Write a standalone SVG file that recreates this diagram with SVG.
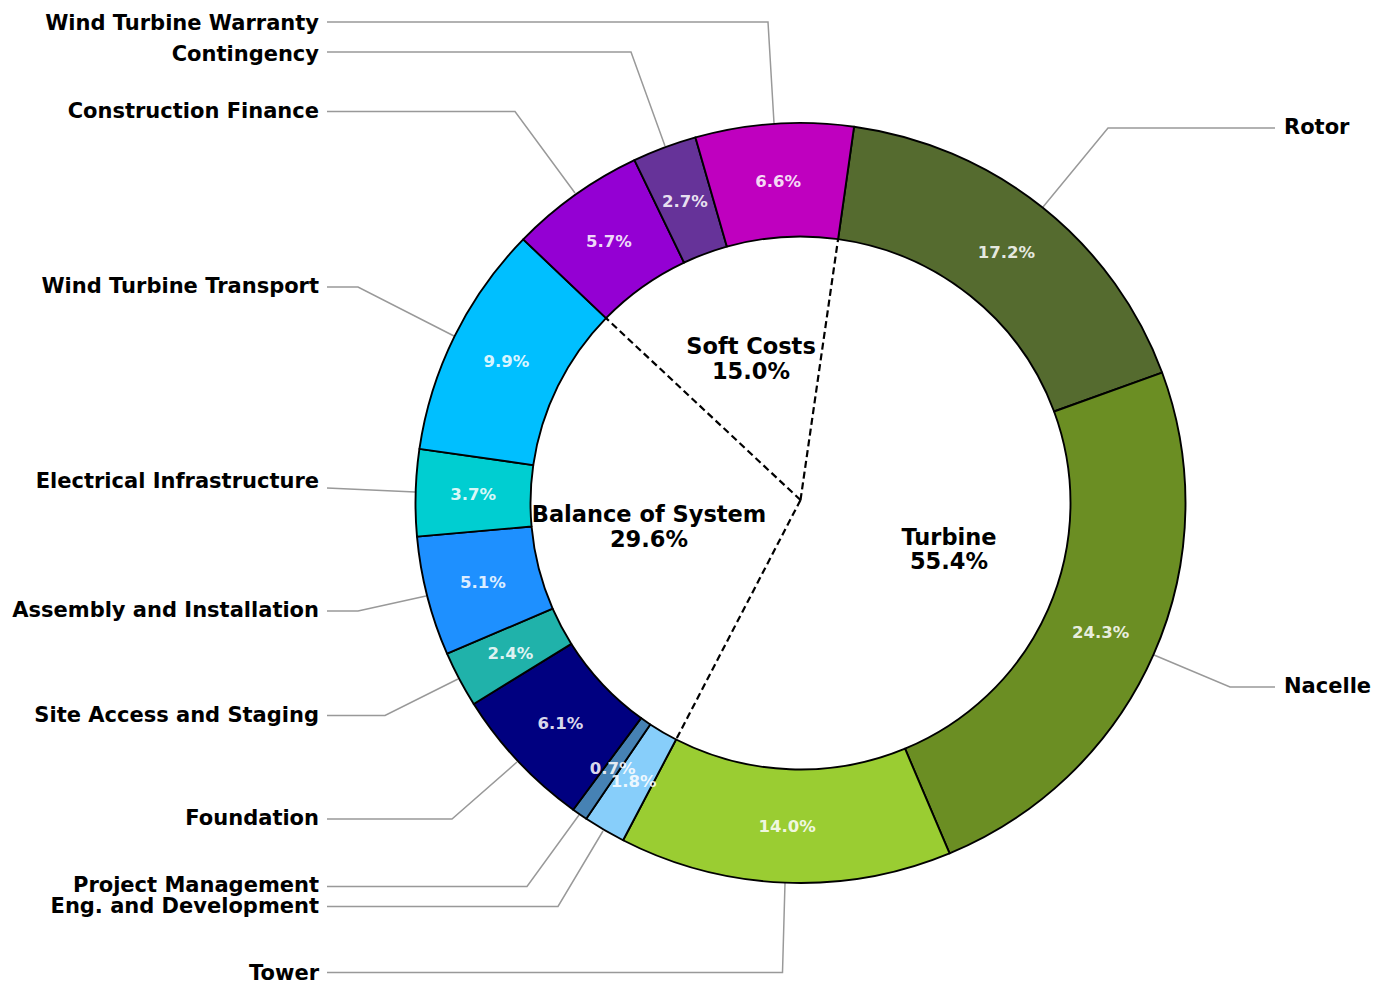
<svg xmlns="http://www.w3.org/2000/svg" width="1374" height="984" viewBox="0 0 1374 984">
<style>
.w{stroke:#000;stroke-width:1.9;stroke-linejoin:round}
.lead{fill:none;stroke:#999;stroke-width:1.5}
.dash{fill:none;stroke:#000;stroke-width:2.2;stroke-dasharray:7 4}
text{font-family:"DejaVu Sans","Liberation Sans",sans-serif;font-weight:bold}
.lbl{font-size:21px;fill:#000}
.l{text-anchor:end}
.pct{font-size:16.5px;fill:#fff;fill-opacity:0.87;text-anchor:middle}
.cat{font-size:22.5px;fill:#000;text-anchor:middle}
</style>
<rect width="1374" height="984" fill="#fff"/>
<g id="connectors">
<polyline class="lead" points="327,22 768,22 774,123"/>
<polyline class="lead" points="327,52 631,52 665,146"/>
<polyline class="lead" points="327,111.5 515,111.5 575,193"/>
<polyline class="lead" points="327,287 358,287 454,336"/>
<polyline class="lead" points="327,488 415,492"/>
<polyline class="lead" points="327,611 358,611 426,596"/>
<polyline class="lead" points="327,715.5 385,715.5 458,679"/>
<polyline class="lead" points="327,819 452,819 517,762"/>
<polyline class="lead" points="327,886.5 527,886.5 579,815"/>
<polyline class="lead" points="327,906.5 558,906.5 603,831"/>
<polyline class="lead" points="327,972.5 782.5,972.5 785,883"/>
<polyline class="lead" points="1275,128 1108,128 1043,207"/>
<polyline class="lead" points="1275,687 1230,687 1154,655"/>
</g>
<g id="ring" transform="translate(800.5,503) scale(1,0.987)">
<g id="rotor"><path class="w" fill="#556B2F" d="M53.58,-381.25 A385,385 0 0 1 361.60,-132.18 L253.59,-92.70 A270,270 0 0 0 37.58,-267.37 Z"/></g>
<g id="nacelle"><path class="w" fill="#6B8E23" d="M361.60,-132.18 A385,385 0 0 1 149.07,354.97 L104.54,248.94 A270,270 0 0 0 253.59,-92.70 Z"/></g>
<g id="tower"><path class="w" fill="#9ACD32" d="M149.07,354.97 A385,385 0 0 1 -177.42,341.69 L-124.42,239.62 A270,270 0 0 0 104.54,248.94 Z"/></g>
<g id="eng-dev"><path class="w" fill="#87CEFA" d="M-177.42,341.69 A385,385 0 0 1 -214.24,319.89 L-150.25,224.34 A270,270 0 0 0 -124.42,239.62 Z"/></g>
<g id="project-mgmt"><path class="w" fill="#4682B4" d="M-214.24,319.89 A385,385 0 0 1 -227.32,310.73 L-159.42,217.91 A270,270 0 0 0 -150.25,224.34 Z"/></g>
<g id="foundation"><path class="w" fill="#000080" d="M-227.32,310.73 A385,385 0 0 1 -326.77,203.59 L-229.16,142.77 A270,270 0 0 0 -159.42,217.91 Z"/></g>
<g id="site-access"><path class="w" fill="#20B2AA" d="M-326.77,203.59 A385,385 0 0 1 -353.45,152.63 L-247.88,107.04 A270,270 0 0 0 -229.16,142.77 Z"/></g>
<g id="assembly"><path class="w" fill="#1E90FF" d="M-353.45,152.63 A385,385 0 0 1 -383.50,34.01 L-268.94,23.85 A270,270 0 0 0 -247.88,107.04 Z"/></g>
<g id="electrical"><path class="w" fill="#00CED1" d="M-383.50,34.01 A385,385 0 0 1 -381.08,-54.78 L-267.25,-38.42 A270,270 0 0 0 -268.94,23.85 Z"/></g>
<g id="transport"><path class="w" fill="#00BFFF" d="M-381.08,-54.78 A385,385 0 0 1 -277.28,-267.09 L-194.46,-187.31 A270,270 0 0 0 -267.25,-38.42 Z"/></g>
<g id="construction-finance"><path class="w" fill="#9400D3" d="M-277.28,-267.09 A385,385 0 0 1 -166.06,-347.34 L-116.46,-243.59 A270,270 0 0 0 -194.46,-187.31 Z"/></g>
<g id="contingency"><path class="w" fill="#663399" d="M-166.06,-347.34 A385,385 0 0 1 -105.04,-370.40 L-73.66,-259.76 A270,270 0 0 0 -116.46,-243.59 Z"/></g>
<g id="warranty"><path class="w" fill="#BF00BF" d="M-105.04,-370.40 A385,385 0 0 1 53.58,-381.25 L37.58,-267.37 A270,270 0 0 0 -73.66,-259.76 Z"/></g>
<g id="inner-dividers">
<line class="dash" x1="0" y1="-3" x2="37.58" y2="-267.37"/>
<line class="dash" x1="0" y1="-3" x2="-124.42" y2="239.62"/>
<line class="dash" x1="0" y1="-3" x2="-194.46" y2="-187.31"/>
</g>
</g>
<g id="percentages">
<text class="pct" x="1006.4" y="257.7">17.2%</text>
<text class="pct" x="1100.7" y="638.3">24.3%</text>
<text class="pct" x="787.2" y="832">14.0%</text>
<text class="pct" x="633.7" y="787.2">1.8%</text>
<text class="pct" x="612.7" y="773.8">0.7%</text>
<text class="pct" x="560.5" y="728.9">6.1%</text>
<text class="pct" x="510.4" y="659">2.4%</text>
<text class="pct" x="483" y="588.4">5.1%</text>
<text class="pct" x="473.1" y="500.2">3.7%</text>
<text class="pct" x="506.3" y="367">9.9%</text>
<text class="pct" x="608.9" y="246.9">5.7%</text>
<text class="pct" x="684.8" y="206.6">2.7%</text>
<text class="pct" x="778.1" y="186.5">6.6%</text>
</g>
<g id="categories">
<text class="cat" x="751" y="354">Soft Costs</text>
<text class="cat" x="751" y="379">15.0%</text>
<text class="cat" x="649" y="521.5">Balance of System</text>
<text class="cat" x="649" y="546.5">29.6%</text>
<text class="cat" x="949" y="544.5">Turbine</text>
<text class="cat" x="949" y="569">55.4%</text>
</g>
<g id="labels">
<text class="lbl l" x="319" y="30">Wind Turbine Warranty</text>
<text class="lbl l" x="319" y="60.5">Contingency</text>
<text class="lbl l" x="319" y="118">Construction Finance</text>
<text class="lbl l" x="319" y="293">Wind Turbine Transport</text>
<text class="lbl l" x="319" y="488">Electrical Infrastructure</text>
<text class="lbl l" x="319" y="616.5">Assembly and Installation</text>
<text class="lbl l" x="319" y="722">Site Access and Staging</text>
<text class="lbl l" x="319" y="825">Foundation</text>
<text class="lbl l" x="319" y="891.5">Project Management</text>
<text class="lbl l" x="319" y="912.5">Eng. and Development</text>
<text class="lbl l" x="319" y="979.5">Tower</text>
<text class="lbl" x="1284" y="134">Rotor</text>
<text class="lbl" x="1284" y="693">Nacelle</text>
</g>
</svg>
